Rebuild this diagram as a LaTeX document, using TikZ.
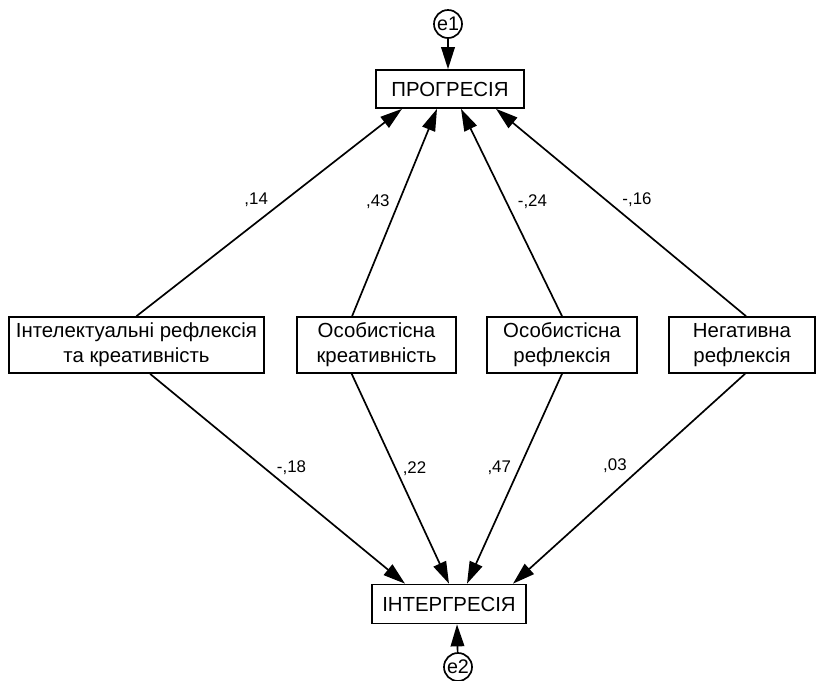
\documentclass[tikz,border=0pt]{standalone}
\usepackage{fontspec}
\setmainfont{Liberation Sans}
\usetikzlibrary{arrows.meta}

\tikzset{
  var/.style={draw=black, line width=1.2pt, rectangle, align=center, inner sep=0pt,
    font=\fontsize{14.5}{17.7}\selectfont},
  err/.style={draw=black, line width=1.2pt, circle, inner sep=0pt, minimum size=0.7cm,
    font=\fontsize{14}{14}\selectfont},
  reg/.style={-{Triangle[length=0.55cm,width=0.34cm]}, line width=1.2pt},
  wt/.style={font=\fontsize{12}{14}\selectfont, inner sep=0pt},
}

\begin{document}
\begin{tikzpicture}[x=0.025cm, y=-0.025cm]
			\useasboundingbox (0,0) rectangle (818,680);
			
			\node[err] (e1) at (448,24) {e1};
			\node[var, minimum width=3.7cm, minimum height=0.95cm] (prog) at (450,89) {ПРОГРЕСІЯ};
			\node[var, minimum width=6.375cm, minimum height=1.4cm] (irc) at (136.5,345) {Інтелектуальні рефлексія\\та креативність};
			\node[var, minimum width=3.975cm, minimum height=1.4cm] (ok) at (376.5,345) {Особистісна\\креативність};
			\node[var, minimum width=3.75cm, minimum height=1.4cm] (or) at (562,345) {Особистісна\\рефлексія};
			\node[var, minimum width=3.65cm, minimum height=1.4cm] (nr) at (742,345) {Негативна\\рефлексія};
			\node[var, minimum width=3.85cm, minimum height=0.975cm] (inter) at (449,604) {ІНТЕРГРЕСІЯ};
			\node[err] (e2) at (458,667) {e2};
			
			\path [reg] (e1) edge ([xshift=-0.05cm]prog.north);
			\path [reg] (e2) edge ([xshift=0.2cm]inter.south);
			
			\path [reg] (irc.north) edge node[wt, pos=0.56, xshift=-0.725cm] {,14} ([xshift=-1.2cm]prog.south);
			\path [reg] ([xshift=-0.61cm]ok.north) edge node[wt, pos=0.55, xshift=-0.525cm] {,43} ([xshift=-0.325cm]prog.south);
			\path [reg] (or.north) edge node[wt, pos=0.55, xshift=0.65cm] {-,24} ([xshift=0.275cm]prog.south);
			\path [reg] ([xshift=0.1cm]nr.north) edge node[wt, pos=0.56, xshift=0.775cm] {-,16} ([xshift=1.15cm]prog.south);
			
			\path [reg] ([xshift=0.34cm]irc.south) edge node[wt, pos=0.445, xshift=0.7cm] {-,18} ([xshift=-1.1cm]inter.north);
			\path [reg] ([xshift=-0.62cm]ok.south) edge node[wt, pos=0.45, xshift=0.475cm] {,22} (inter.north);
			\path [reg] (or.south) edge node[wt, pos=0.45, xshift=-0.5cm] {,47} ([xshift=0.45cm]inter.north);
			\path [reg] ([xshift=0.075cm]nr.south) edge node[wt, pos=0.44, xshift=-0.7cm] {,03} ([xshift=1.6cm]inter.north);
\end{tikzpicture}
\end{document}
